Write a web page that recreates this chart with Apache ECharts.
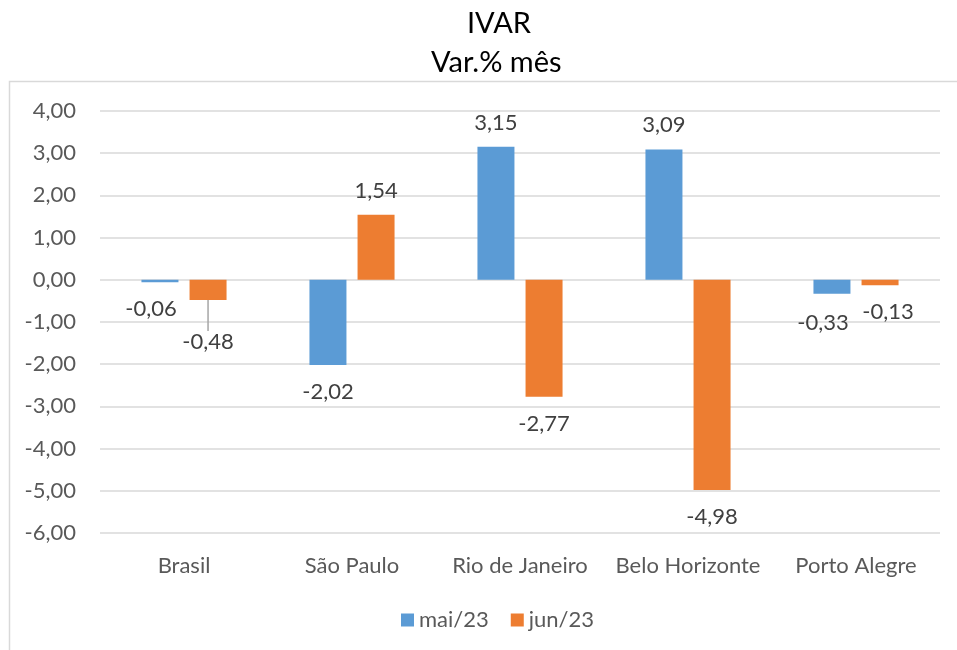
<!DOCTYPE html>
<html>
<head>
<meta charset="utf-8">
<script src="https://cdn.jsdelivr.net/npm/echarts@6/dist/echarts.min.js"></script>
<style>
html, body { margin: 0; padding: 0; background: #fff; }
#chart { width: 957px; height: 650px; }
</style>
</head>
<body>
<div id="chart"></div>
<script>
var cities = ['Brasil', 'São Paulo', 'Rio de Janeiro', 'Belo Horizonte', 'Porto Alegre'];
var mai23 = [-0.06, -2.02, 3.15, 3.09, -0.33];
var jun23 = [-0.48, 1.54, -2.77, -4.98, -0.13];
var seriesNames = ['mai/23', 'jun/23'];

var FONT = 'Lato, "Open Sans", sans-serif';

function fmt(v) {
	return v.toFixed(2).replace('.', ',');
}

function makeData(arr) {
	var out = [];
	for (var i = 0; i < arr.length; i++) {
		out.push({
			value: arr[i],
			label: {
				position: arr[i] >= 0 ? 'top' : 'bottom',
				distance: arr[i] >= 0 ? 13 : 16
			}
		});
	}
	return out;
}

var labelStyle = {
	show: true,
	color: '#404040',
	fontSize: 22,
	fontFamily: FONT,
	formatter: function (p) { return fmt(p.value); }
};

var junData = makeData(jun23);
// Brasil jun label was moved down in the original, with a leader line
junData[0].labelLine = { show: true, lineStyle: { color: '#a6a6a6', width: 1.5 } };

var myChart = echarts.init(document.getElementById('chart'));
var option = {
	backgroundColor: '#fff',
	animation: false,
	textStyle: { fontFamily: FONT },
	title: [
		{ text: 'IVAR', left: 462, top: 4, textStyle: { fontSize: 29, fontWeight: 'normal', color: '#000', fontFamily: FONT } },
		{ text: 'Var.% mês', left: 426, top: 43, textStyle: { fontSize: 29, fontWeight: 'normal', color: '#000', fontFamily: FONT } }
	],
	graphic: [{
		type: 'rect',
		shape: { x: 9.5, y: 81.5, width: 1000, height: 700 },
		style: { fill: 'none', stroke: '#d9d9d9', lineWidth: 1.5 },
		silent: true
	}],
	legend: {
		data: seriesNames,
		bottom: 14,
		left: 396,
		itemWidth: 13,
		itemHeight: 13,
		itemGap: 22,
		icon: 'rect',
		textStyle: { fontSize: 22, color: '#595959', fontFamily: FONT }
	},
	grid: { left: 100, right: 17, top: 111, bottom: 117 },
	xAxis: {
		type: 'category',
		data: cities,
		axisLine: { show: false, onZero: false },
		axisTick: { show: false },
		axisLabel: { color: '#595959', fontSize: 22, margin: 22, fontFamily: FONT, interval: 0 },
		splitLine: { show: false }
	},
	yAxis: {
		type: 'value',
		min: -6,
		max: 4,
		interval: 1,
		axisLine: { show: false },
		axisTick: { show: false },
		axisLabel: { color: '#595959', fontSize: 22, margin: 24, fontFamily: FONT, formatter: fmt },
		splitLine: { lineStyle: { color: '#d9d9d9', width: 1.5 } }
	},
	series: [
		{
			name: seriesNames[0],
			type: 'bar',
			data: makeData(mai23),
			barWidth: 37,
			barGap: '30%',
			itemStyle: { color: '#5B9BD5' },
			label: labelStyle,
			labelLayout: function (p) {
				if (p.dataIndex === 0) return { dx: -9 };
				if (p.dataIndex === 4) return { dx: -9, dy: 2 };
			}
		},
		{
			name: seriesNames[1],
			type: 'bar',
			data: junData,
			barWidth: 37,
			barGap: '30%',
			itemStyle: { color: '#ED7D31' },
			label: labelStyle,
			labelLayout: function (p) {
				if (p.dataIndex === 0) return { dy: 15 };
				if (p.dataIndex === 4) return { dx: 8 };
			}
		}
	]
};
myChart.setOption(option);
</script>
</body>
</html>
